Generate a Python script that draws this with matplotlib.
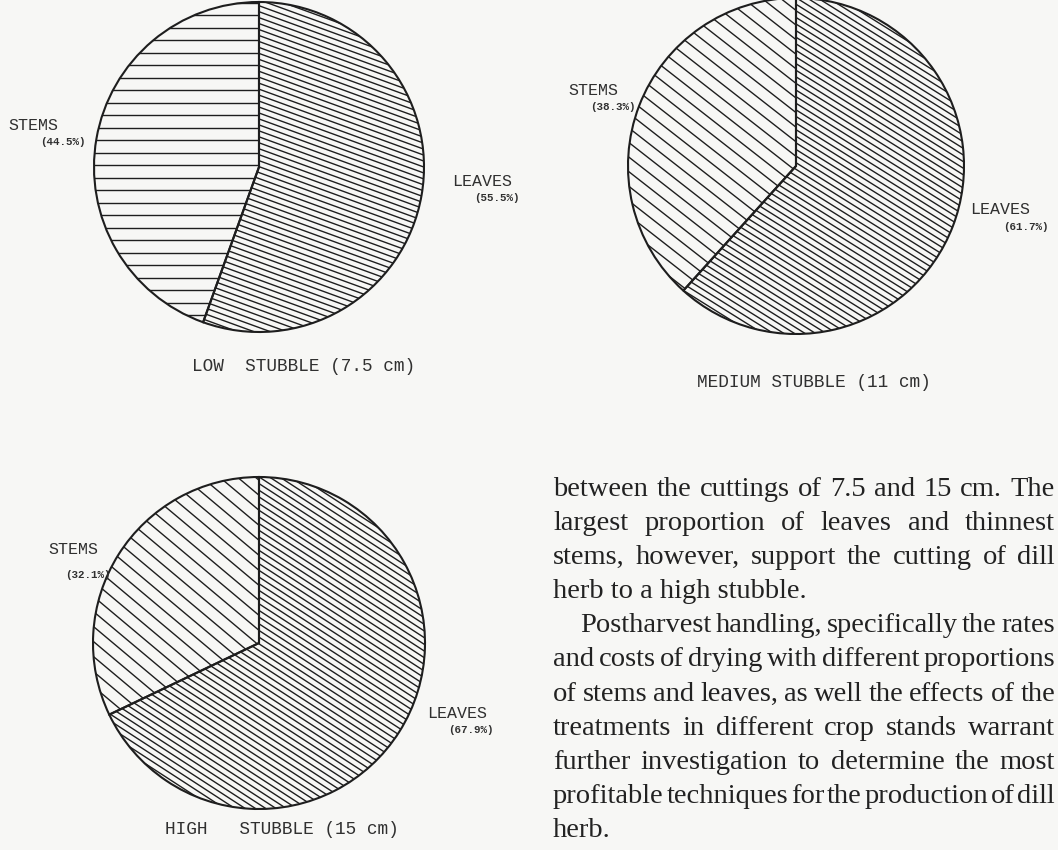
import numpy as np
import matplotlib
matplotlib.use('Agg')
import matplotlib.pyplot as plt
from matplotlib.collections import LineCollection

# ---------------- data ----------------
titles = ['LOW  STUBBLE (7.5 cm)', 'MEDIUM STUBBLE (11 cm)', 'HIGH   STUBBLE (15 cm)']
categories = ['LEAVES', 'STEMS']
leaves_pct = [55.5, 61.7, 67.9]
stems_pct = [44.5, 38.3, 32.1]

paragraph_lines = [
    ('between the cuttings of 7.5 and 15 cm. The', True, 0),
    ('largest proportion of leaves and thinnest', True, 0),
    ('stems, however, support the cutting of dill', True, 0),
    ('herb to a high stubble.', False, 0),
    ('Postharvest handling, specifically the rates', True, 1),
    ('and costs of drying with different proportions', True, 0),
    ('of stems and leaves, as well the effects of the', True, 0),
    ('treatments in different crop stands warrant', True, 0),
    ('further investigation to determine the most', True, 0),
    ('profitable techniques for the production of dill', True, 0),
    ('herb.', False, 0),
]

# ---------------- layout / style ----------------
W, H = 1058, 850
fig = plt.figure(figsize=(W / 100, H / 100), dpi=100)
bg = '#f7f7f5'
fig.patch.set_facecolor(bg)
ax = fig.add_axes([0, 0, 1, 1])
ax.set_facecolor(bg)

def py(y):  # convert from top-down pixel to data y
    return H - y

pie_specs = [
    # center (px), radius, stems hatch (angle, spacing), leaves hatch (angle, spacing)
    dict(c=(259, 167), r=165, stems=(0, 12.5), leaves=(-20, 5.6)),
    dict(c=(796, 166), r=168, stems=(-38, 11.5), leaves=(-32, 5.6)),
    dict(c=(259, 643), r=166, stems=(-40, 11.5), leaves=(-33, 5.6)),
]

label_pos = [
    dict(stems=(8, 125), stems_p=(40, 142), leaves=(452, 181), leaves_p=(474, 198), title=(192, 366)),
    dict(stems=(568, 90), stems_p=(590, 107), leaves=(970, 209), leaves_p=(1003, 227), title=(697, 382)),
    dict(stems=(48, 549), stems_p=(65, 575), leaves=(427, 713), leaves_p=(448, 730), title=(165, 830)),
]

ink = '#1e1e1e'
chart_txt = '#303030'
mono = ['Liberation Mono', 'DejaVu Sans Mono']


def hatch_lines(center, r, angle, spacing):
    th = np.deg2rad(angle)
    d = np.array([np.cos(th), np.sin(th)])
    n = np.array([-np.sin(th), np.cos(th)])
    c = np.array(center)
    segs = []
    k = np.arange(-r * 1.05, r * 1.05, spacing)
    for off in k:
        p = c + off * n
        segs.append([p - 1.1 * r * d, p + 1.1 * r * d])
    return segs


for i in range(3):
    spec = pie_specs[i]
    cx, cy = spec['c'][0], py(spec['c'][1])
    wedges, _ = ax.pie([leaves_pct[i], stems_pct[i]], startangle=90, counterclock=False,
                       center=(cx, cy), radius=spec['r'], frame=True,
                       wedgeprops=dict(fill=False, edgecolor=ink, linewidth=1.5))
    for w, key in zip(wedges, ['leaves', 'stems']):
        ang, sp = spec[key]
        lc = LineCollection(hatch_lines((cx, cy), spec['r'], ang, sp),
                            colors=ink, linewidths=1.0, zorder=1)
        ax.add_collection(lc)
        lc.set_clip_path(w)
        w.set_zorder(2)

    lp = label_pos[i]
    ax.text(lp['stems'][0], py(lp['stems'][1]), categories[1], family=mono, fontsize=12,
            color=chart_txt, ha='left', va='center')
    ax.text(lp['stems_p'][0], py(lp['stems_p'][1]), f'({stems_pct[i]:.1f}%)', family=mono,
            fontsize=7.8, color=chart_txt, ha='left', va='center', fontweight='bold')
    ax.text(lp['leaves'][0], py(lp['leaves'][1]), categories[0], family=mono, fontsize=12,
            color=chart_txt, ha='left', va='center')
    ax.text(lp['leaves_p'][0], py(lp['leaves_p'][1]), f'({leaves_pct[i]:.1f}%)', family=mono,
            fontsize=7.8, color=chart_txt, ha='left', va='center', fontweight='bold')
    ax.text(lp['title'][0], py(lp['title'][1]), titles[i], family=mono, fontsize=12.8,
            color=chart_txt, ha='left', va='center')

ax.set_xlim(0, W)
ax.set_ylim(0, H)
ax.set_aspect('equal')
ax.axis('off')

# ---------------- paragraph (justified) ----------------
serif = ['Liberation Serif', 'DejaVu Serif']
fs = 20.5
x_left = 553
indent = 27
x_right = 1055
base0 = 496
lead = 34.1
txt_col = '#222222'
renderer = fig.canvas.get_renderer()
for li, (line, justify, ind) in enumerate(paragraph_lines):
    yb = py(base0 + li * lead)
    x0 = x_left + ind * indent
    if not justify:
        ax.text(x0, yb, line, family=serif, fontsize=fs, color=txt_col, ha='left', va='baseline')
        continue
    words = line.split(' ')
    arts = []
    widths = []
    for wd in words:
        t = ax.text(0, yb, wd, family=serif, fontsize=fs, color=txt_col, ha='left', va='baseline')
        bb = t.get_window_extent(renderer)
        arts.append(t)
        widths.append(bb.width)
    gap = (x_right - x0 - sum(widths)) / (len(words) - 1)
    x = x0
    for t, wdt in zip(arts, widths):
        t.set_x(x)
        x += wdt + gap

fig.savefig('out.png', dpi=100, facecolor=bg)
